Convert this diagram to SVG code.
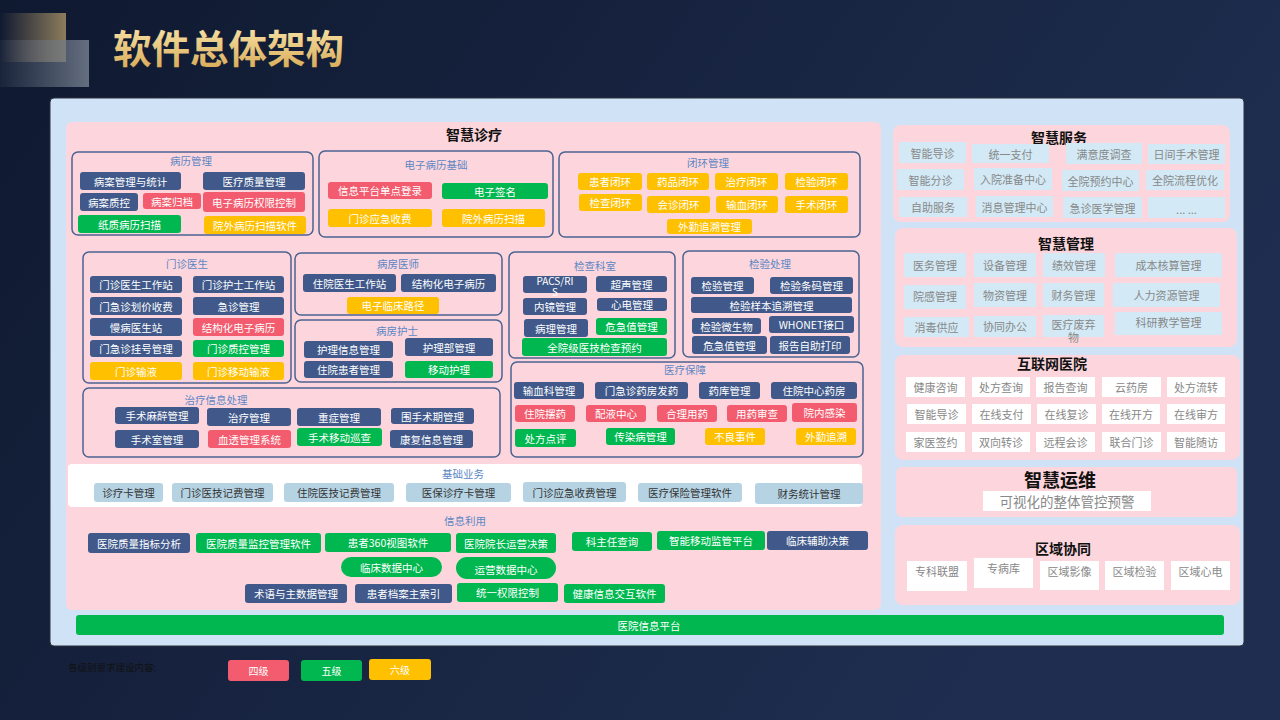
<svg xmlns="http://www.w3.org/2000/svg" width="1280" height="720" viewBox="0 0 1280 720">
<defs>
<linearGradient id="bg" x1="0" y1="0" x2="1" y2="0.4"><stop offset="0" stop-color="#0f1930"/><stop offset="1" stop-color="#1f2e50"/></linearGradient>
<linearGradient id="gold" x1="0" y1="0" x2="0" y2="1"><stop offset="0" stop-color="#fcecb4"/><stop offset="1" stop-color="#d6a650"/></linearGradient>
<linearGradient id="sq1" x1="0" y1="0" x2="1" y2="0"><stop offset="0" stop-color="#8d7c5c" stop-opacity="0"/><stop offset="1" stop-color="#8d7c5c"/></linearGradient>
<linearGradient id="sq2" x1="0" y1="0" x2="1" y2="0"><stop offset="0" stop-color="#6e7888" stop-opacity="0.1"/><stop offset="1" stop-color="#6e7888" stop-opacity="0.9"/></linearGradient>
</defs>
<style>
text{font-family:"Noto Sans CJK SC","Noto Sans",sans-serif}
.it text{font-size:10.5px;fill:#fff;text-anchor:middle;dominant-baseline:central}
.d{fill:#41598a}.r{fill:#f25c6e}.g{fill:#00b84f}.y{fill:#ffc000}
.b{fill:#b6d3e4}.bt text{fill:#333}
.s{fill:#d3eaf6}.w{fill:#fff}.gt .it text{fill:#888;font-size:11px}
.sub{fill:none;stroke:#4b6391;stroke-width:1.5}
.st{font-size:10.5px;fill:#5b86c5;text-anchor:middle;dominant-baseline:central}
.pk{fill:#fcd6dc}
text.h{font-size:14px;font-weight:bold;fill:#111;text-anchor:middle;dominant-baseline:central}
</style>
<rect width="1280" height="720" fill="url(#bg)"/>
<rect x="0" y="13" width="66" height="49" fill="url(#sq1)"/>
<rect x="0" y="40" width="89" height="47" fill="url(#sq2)"/>
<text x="113" y="63" font-size="38.5" font-weight="bold" fill="url(#gold)">软件总体架构</text>

<rect x="50" y="98" width="1194" height="548" rx="4" fill="#d0e2f6" stroke="#2a2f3a" stroke-width="1"/>

<g id="zhihui-zhenliao">
<rect class="pk" x="66" y="122" width="815" height="488" rx="6"/>
<text class="h" x="474" y="134">智慧诊疗</text>
</g>

<g id="binglibguanli">
<rect class="sub" x="72" y="152" width="241" height="83" rx="6"/>
<text class="st" x="191" y="160">病历管理</text>
<g class="it">
<g id="n1"><rect class="d" x="80" y="172" width="101" height="18" rx="3"/><text x="130.5" y="181">病案管理与统计</text></g>
<g id="n2"><rect class="d" x="203" y="172" width="102" height="18" rx="3"/><text x="254" y="181">医疗质量管理</text></g>
<g id="n3"><rect class="d" x="80" y="193" width="58" height="18" rx="3"/><text x="109" y="202">病案质控</text></g>
<g id="n4"><rect class="r" x="143" y="193" width="58" height="16" rx="3"/><text x="172" y="201">病案归档</text></g>
<g id="n5"><rect class="r" x="203" y="192" width="102" height="20" rx="3"/><text x="254" y="202">电子病历权限控制</text></g>
<g id="n6"><rect class="g" x="78" y="215" width="103" height="18" rx="3"/><text x="129.5" y="224">纸质病历扫描</text></g>
<g id="n7"><rect class="y" x="204" y="216" width="102" height="18" rx="3"/><text x="255" y="225">院外病历扫描软件</text></g>
</g>
</g>

<g id="dianzibingli">
<rect class="sub" x="319" y="151" width="234" height="86" rx="6"/>
<text class="st" x="436" y="164">电子病历基础</text>
<g class="it">
<g id="n8"><rect class="r" x="328" y="182" width="104" height="17" rx="3"/><text x="380" y="190.5">信息平台单点登录</text></g>
<g id="n9"><rect class="g" x="442" y="183" width="106" height="16" rx="3"/><text x="495" y="191">电子签名</text></g>
<g id="n10"><rect class="y" x="328" y="209" width="104" height="18" rx="3"/><text x="380" y="218">门诊应急收费</text></g>
<g id="n11"><rect class="y" x="442" y="209" width="103" height="18" rx="3"/><text x="493.5" y="218">院外病历扫描</text></g>
</g>
</g>

<g id="bihuan">
<rect class="sub" x="559" y="152" width="301" height="85" rx="6"/>
<text class="st" x="708" y="162">闭环管理</text>
<g class="it">
<g id="n12"><rect class="y" x="578" y="173" width="64" height="17" rx="3"/><text x="610" y="181.5">患者闭环</text></g>
<g id="n13"><rect class="y" x="647" y="173" width="62" height="17" rx="3"/><text x="678" y="181.5">药品闭环</text></g>
<g id="n14"><rect class="y" x="715" y="173" width="63" height="17" rx="3"/><text x="746.5" y="181.5">治疗闭环</text></g>
<g id="n15"><rect class="y" x="785" y="173" width="63" height="17" rx="3"/><text x="816.5" y="181.5">检验闭环</text></g>
<g id="n16"><rect class="y" x="579" y="194" width="63" height="17" rx="3"/><text x="610.5" y="202">检查闭环</text></g>
<g id="n17"><rect class="y" x="647" y="196" width="63" height="17" rx="3"/><text x="678.5" y="204.5">会诊闭环</text></g>
<g id="n18"><rect class="y" x="716" y="196" width="62" height="17" rx="3"/><text x="747" y="204.5">输血闭环</text></g>
<g id="n19"><rect class="y" x="785" y="196" width="63" height="17" rx="3"/><text x="816.5" y="204.5">手术闭环</text></g>
<g id="n20"><rect class="y" x="667" y="219" width="85" height="15" rx="3"/><text x="709.5" y="226.5">外勤追溯管理</text></g>
</g>
</g>

<g id="menzhenyisheng">
<rect class="sub" x="83" y="252" width="208" height="131" rx="6"/>
<text class="st" x="187" y="263">门诊医生</text>
<g class="it">
<g id="n21"><rect class="d" x="90" y="276" width="92" height="17" rx="3"/><text x="136" y="284.5">门诊医生工作站</text></g>
<g id="n22"><rect class="d" x="193" y="276" width="91" height="17" rx="3"/><text x="238.5" y="284.5">门诊护士工作站</text></g>
<g id="n23"><rect class="d" x="90" y="297" width="92" height="18" rx="3"/><text x="136" y="306">门急诊划价收费</text></g>
<g id="n24"><rect class="d" x="193" y="297" width="91" height="18" rx="3"/><text x="238.5" y="306">急诊管理</text></g>
<g id="n25"><rect class="d" x="90" y="318" width="92" height="18" rx="3"/><text x="136" y="327">慢病医生站</text></g>
<g id="n26"><rect class="r" x="193" y="318" width="91" height="18" rx="3"/><text x="238.5" y="327">结构化电子病历</text></g>
<g id="n27"><rect class="d" x="90" y="340" width="92" height="17" rx="3"/><text x="136" y="348.5">门急诊挂号管理</text></g>
<g id="n28"><rect class="g" x="193" y="340" width="91" height="17" rx="3"/><text x="238.5" y="348.5">门诊质控管理</text></g>
<g id="n29"><rect class="y" x="90" y="362" width="92" height="18" rx="3"/><text x="136" y="371">门诊输液</text></g>
<g id="n30"><rect class="y" x="193" y="362" width="91" height="18" rx="3"/><text x="238.5" y="371">门诊移动输液</text></g>
</g>
</g>

<g id="bingfangyishi">
<rect class="sub" x="295" y="253" width="207" height="62" rx="6"/>
<text class="st" x="398" y="263">病房医师</text>
<g class="it">
<g id="n31"><rect class="d" x="303" y="274" width="93" height="18" rx="3"/><text x="349.5" y="283">住院医生工作站</text></g>
<g id="n32"><rect class="d" x="401" y="274" width="95" height="18" rx="3"/><text x="448.5" y="283">结构化电子病历</text></g>
<g id="n33"><rect class="y" x="347" y="297" width="92" height="17" rx="3"/><text x="393" y="305.5">电子临床路径</text></g>
</g>
</g>

<g id="bingfanghushi">
<rect class="sub" x="295" y="320" width="207" height="62" rx="6"/>
<text class="st" x="397" y="330">病房护士</text>
<g class="it">
<g id="n34"><rect class="d" x="304" y="341" width="89" height="17" rx="3"/><text x="348.5" y="349.5">护理信息管理</text></g>
<g id="n35"><rect class="d" x="405" y="338" width="88" height="18" rx="3"/><text x="449" y="347">护理部管理</text></g>
<g id="n36"><rect class="d" x="304" y="361" width="89" height="17" rx="3"/><text x="348.5" y="369.5">住院患者管理</text></g>
<g id="n37"><rect class="g" x="405" y="361" width="88" height="17" rx="3"/><text x="449" y="369.5">移动护理</text></g>
</g>
</g>

<g id="jianchakeshi">
<rect class="sub" x="509" y="252" width="166" height="106" rx="6"/>
<text class="st" x="595" y="265">检查科室</text>
<g class="it">
<g id="n38"><rect class="d" x="523" y="276" width="64" height="17" rx="3"/><text x="555" y="280" style="font-size:10px">PACS/RI<tspan x="555" dy="11">S</tspan></text></g>
<g id="n39"><rect class="d" x="596" y="276" width="71" height="16" rx="3"/><text x="631.5" y="284">超声管理</text></g>
<g id="n40"><rect class="d" x="523" y="298" width="64" height="17" rx="3"/><text x="555" y="306.5">内镜管理</text></g>
<g id="n41"><rect class="d" x="597" y="298" width="70" height="13" rx="3"/><text x="632" y="304.5">心电管理</text></g>
<g id="n42"><rect class="d" x="524" y="319" width="64" height="18" rx="3"/><text x="556" y="328">病理管理</text></g>
<g id="n43"><rect class="g" x="596" y="318" width="71" height="17" rx="3"/><text x="631.5" y="326.5">危急值管理</text></g>
<g id="n44"><rect class="g" x="522" y="338" width="145" height="18" rx="3"/><text x="594.5" y="347">全院级医技检查预约</text></g>
</g>
</g>

<g id="jianyanchuli">
<rect class="sub" x="683" y="251" width="176" height="106" rx="6"/>
<text class="st" x="770" y="263">检验处理</text>
<g class="it">
<g id="n45"><rect class="d" x="691" y="277" width="63" height="17" rx="3"/><text x="722.5" y="285.5">检验管理</text></g>
<g id="n46"><rect class="d" x="770" y="277" width="83" height="17" rx="3"/><text x="811.5" y="285.5">检验条码管理</text></g>
<g id="n47"><rect class="d" x="691" y="297" width="161" height="16" rx="3"/><text x="771.5" y="305">检验样本追溯管理</text></g>
<g id="n48"><rect class="d" x="692" y="318" width="69" height="16" rx="3"/><text x="726.5" y="326">检验微生物</text></g>
<g id="n49"><rect class="d" x="769" y="316" width="85" height="17" rx="3"/><text x="811.5" y="324.5">WHONET接口</text></g>
<g id="n50"><rect class="d" x="692" y="336" width="75" height="18" rx="3"/><text x="729.5" y="345">危急值管理</text></g>
<g id="n51"><rect class="d" x="770" y="336" width="80" height="18" rx="3"/><text x="810" y="345">报告自助打印</text></g>
</g>
</g>

<g id="zhiliao">
<rect class="sub" x="83" y="388" width="417" height="69" rx="6"/>
<text class="st" x="216" y="399">治疗信息处理</text>
<g class="it">
<g id="n52"><rect class="d" x="115" y="407" width="84" height="17" rx="3"/><text x="157" y="415.5">手术麻醉管理</text></g>
<g id="n53"><rect class="d" x="207" y="408" width="84" height="18" rx="3"/><text x="249" y="417">治疗管理</text></g>
<g id="n54"><rect class="d" x="297" y="408" width="84" height="18" rx="3"/><text x="339" y="417">重症管理</text></g>
<g id="n55"><rect class="d" x="391" y="408" width="83" height="16" rx="3"/><text x="432.5" y="416">围手术期管理</text></g>
<g id="n56"><rect class="d" x="115" y="430" width="84" height="18" rx="3"/><text x="157" y="439">手术室管理</text></g>
<g id="n57"><rect class="r" x="208" y="430" width="83" height="18" rx="3"/><text x="249.5" y="439">血透管理系统</text></g>
<g id="n58"><rect class="g" x="297" y="428" width="85" height="18" rx="3"/><text x="339.5" y="437">手术移动巡查</text></g>
<g id="n59"><rect class="d" x="390" y="430" width="83" height="18" rx="3"/><text x="431.5" y="439">康复信息管理</text></g>
</g>
</g>

<g id="yiliaobaozhang">
<rect class="sub" x="511" y="362" width="352" height="95" rx="6"/>
<text class="st" x="685" y="369">医疗保障</text>
<g class="it">
<g id="n60"><rect class="d" x="514" y="382" width="70" height="17" rx="3"/><text x="549" y="390.5">输血科管理</text></g>
<g id="n61"><rect class="d" x="595" y="382" width="93" height="17" rx="3"/><text x="641.5" y="390.5">门急诊药房发药</text></g>
<g id="n62"><rect class="d" x="699" y="382" width="61" height="17" rx="3"/><text x="729.5" y="390.5">药库管理</text></g>
<g id="n63"><rect class="d" x="771" y="382" width="86" height="17" rx="3"/><text x="814" y="390.5">住院中心药房</text></g>
<g id="n64"><rect class="r" x="515" y="405" width="60" height="17" rx="3"/><text x="545" y="413.5">住院摆药</text></g>
<g id="n65"><rect class="r" x="586" y="405" width="60" height="17" rx="3"/><text x="616" y="413.5">配液中心</text></g>
<g id="n66"><rect class="r" x="657" y="405" width="60" height="17" rx="3"/><text x="687" y="413.5">合理用药</text></g>
<g id="n67"><rect class="r" x="727" y="405" width="60" height="17" rx="3"/><text x="757" y="413.5">用药审查</text></g>
<g id="n68"><rect class="r" x="792" y="403" width="65" height="19" rx="3"/><text x="824.5" y="412.5">院内感染</text></g>
<g id="n69"><rect class="g" x="515" y="429" width="61" height="18" rx="3"/><text x="545.5" y="438">处方点评</text></g>
<g id="n70"><rect class="g" x="606" y="428" width="69" height="17" rx="3"/><text x="640.5" y="436.5">传染病管理</text></g>
<g id="n71"><rect class="y" x="705" y="428" width="60" height="17" rx="3"/><text x="735" y="436.5">不良事件</text></g>
<g id="n72"><rect class="y" x="796" y="428" width="60" height="17" rx="3"/><text x="826" y="436.5">外勤追溯</text></g>
</g>
</g>

<g id="jichuyewu">
<rect x="68" y="464" width="794" height="43" rx="4" fill="#fff"/>
<text class="st" x="463" y="473">基础业务</text>
<g class="it bt">
<g id="n73"><rect class="b" x="94" y="483" width="69" height="19" rx="3"/><text x="128.5" y="492.5">诊疗卡管理</text></g>
<g id="n74"><rect class="b" x="172" y="483" width="101" height="19" rx="3"/><text x="222.5" y="492.5">门诊医技记费管理</text></g>
<g id="n75"><rect class="b" x="284" y="483" width="110" height="19" rx="3"/><text x="339" y="492.5">住院医技记费管理</text></g>
<g id="n76"><rect class="b" x="406" y="483" width="105" height="19" rx="3"/><text x="458.5" y="492.5">医保诊疗卡管理</text></g>
<g id="n77"><rect class="b" x="523" y="482" width="103" height="20" rx="3"/><text x="574.5" y="492">门诊应急收费管理</text></g>
<g id="n78"><rect class="b" x="638" y="483" width="104" height="19" rx="3"/><text x="690" y="492.5">医疗保险管理软件</text></g>
<g id="n79"><rect class="b" x="755" y="483" width="108" height="21" rx="3"/><text x="809" y="493.5">财务统计管理</text></g>
</g>
</g>

<g id="xinxiliyong">
<text class="st" x="465" y="520">信息利用</text>
<g class="it">
<g id="n80"><rect class="d" x="88" y="533" width="102" height="20" rx="3"/><text x="139" y="543">医院质量指标分析</text></g>
<g id="n81"><rect class="g" x="196" y="533" width="125" height="20" rx="3"/><text x="258.5" y="543">医院质量监控管理软件</text></g>
<g id="n82"><rect class="g" x="325" y="533" width="126" height="19" rx="3"/><text x="388" y="542.5">患者360视图软件</text></g>
<g id="n83"><rect class="g" x="456" y="533" width="100" height="20" rx="3"/><text x="506" y="543">医院院长运营决策</text></g>
<g id="n84"><rect class="g" x="572" y="532" width="80" height="19" rx="3"/><text x="612" y="541.5">科主任查询</text></g>
<g id="n85"><rect class="g" x="657" y="531" width="108" height="19" rx="3"/><text x="711" y="540.5">智能移动监管平台</text></g>
<g id="n86"><rect class="d" x="767" y="531" width="101" height="19" rx="3"/><text x="817.5" y="540.5">临床辅助决策</text></g>
<g id="n87"><rect class="g" x="341" y="557" width="101" height="20" rx="10"/><text x="391.5" y="567">临床数据中心</text></g>
<g id="n88"><rect class="g" x="456" y="557" width="100" height="22" rx="11"/><text x="506" y="569">运营数据中心</text></g>
<g id="n89"><rect class="d" x="245" y="584" width="102" height="19" rx="3"/><text x="296" y="593.5">术语与主数据管理</text></g>
<g id="n90"><rect class="d" x="355" y="584" width="97" height="19" rx="3"/><text x="403.5" y="593.5">患者档案主索引</text></g>
<g id="n91"><rect class="g" x="457" y="583" width="101" height="19" rx="3"/><text x="507.5" y="592.5">统一权限控制</text></g>
<g id="n92"><rect class="g" x="564" y="584" width="101" height="19" rx="3"/><text x="614.5" y="593.5">健康信息交互软件</text></g>
</g>
</g>

<g id="pingtai" class="it">
<rect class="g" x="76" y="615" width="1148" height="20" rx="3"/><text x="649" y="625">医院信息平台</text>
</g>

<g id="zhihui-fuwu" class="gt">
<rect class="pk" x="893" y="125" width="337" height="97" rx="8"/>
<text class="h" x="1059" y="137">智慧服务</text>
<g class="it">
<g id="s1"><rect class="s" x="899" y="142" width="67" height="21"/><text x="932.5" y="152.5">智能导诊</text></g>
<g id="s2"><rect class="s" x="972" y="144" width="77" height="19"/><text x="1010.5" y="153.5">统一支付</text></g>
<g id="s3"><rect class="s" x="1066" y="143" width="76" height="21"/><text x="1104" y="153.5">满意度调查</text></g>
<g id="s4"><rect class="s" x="1148" y="144" width="77" height="20"/><text x="1186.5" y="154">日间手术管理</text></g>
<g id="s5"><rect class="s" x="897" y="169" width="67" height="21"/><text x="930.5" y="179.5">智能分诊</text></g>
<g id="s6"><rect class="s" x="974" y="168" width="78" height="22"/><text x="1013" y="179">入院准备中心</text></g>
<g id="s7"><rect class="s" x="1062" y="170" width="77" height="21"/><text x="1100.5" y="180.5">全院预约中心</text></g>
<g id="s8"><rect class="s" x="1146" y="170" width="78" height="20"/><text x="1185" y="180">全院流程优化</text></g>
<g id="s9"><rect class="s" x="899" y="197" width="68" height="20"/><text x="933" y="207">自助服务</text></g>
<g id="s10"><rect class="s" x="976" y="196" width="77" height="21"/><text x="1014.5" y="206.5">消息管理中心</text></g>
<g id="s11"><rect class="s" x="1063" y="197" width="79" height="21"/><text x="1102.5" y="207.5">急诊医学管理</text></g>
<g id="s12"><rect class="s" x="1148" y="197" width="77" height="21"/><text x="1186.5" y="209">... ...</text></g>
</g>
</g>

<g id="zhihui-guanli" class="gt">
<rect class="pk" x="895" y="228" width="342" height="119" rx="8"/>
<text class="h" x="1066" y="243">智慧管理</text>
<g class="it">
<g id="m1"><rect class="s" x="904" y="253" width="62" height="24"/><text x="935" y="265">医务管理</text></g>
<g id="m2"><rect class="s" x="974" y="253" width="62" height="24"/><text x="1005" y="265">设备管理</text></g>
<g id="m3"><rect class="s" x="1043" y="253" width="62" height="24"/><text x="1074" y="265">绩效管理</text></g>
<g id="m4"><rect class="s" x="1115" y="253" width="107" height="24"/><text x="1168.5" y="265">成本核算管理</text></g>
<g id="m5"><rect class="s" x="904" y="285" width="62" height="24"/><text x="935" y="296">院感管理</text></g>
<g id="m6"><rect class="s" x="974" y="283" width="62" height="24"/><text x="1005" y="294.5">物资管理</text></g>
<g id="m7"><rect class="s" x="1043" y="283" width="61" height="24"/><text x="1073.5" y="294.5">财务管理</text></g>
<g id="m8"><rect class="s" x="1113" y="283" width="107" height="24"/><text x="1166.5" y="294.5">人力资源管理</text></g>
<g id="m9"><rect class="s" x="904" y="317" width="65" height="20"/><text x="936.5" y="327">消毒供应</text></g>
<g id="m10"><rect class="s" x="974" y="316" width="62" height="21"/><text x="1005" y="326">协同办公</text></g>
<g id="m11"><rect class="s" x="1043" y="315" width="61" height="22"/><text x="1073.5" y="323.5">医疗废弃<tspan x="1073.5" dy="13.5">物</tspan></text></g>
<g id="m12"><rect class="s" x="1115" y="312" width="107" height="23"/><text x="1168.5" y="321.5">科研教学管理</text></g>
</g>
</g>

<g id="hulianwang" class="gt">
<rect class="pk" x="895" y="355" width="345" height="105" rx="8"/>
<text class="h" x="1052" y="363">互联网医院</text>
<g class="it">
<g id="h1"><rect class="w" x="906" y="377" width="59" height="20"/><text x="935.5" y="387">健康咨询</text></g>
<g id="h2"><rect class="w" x="972" y="377" width="58" height="20"/><text x="1001" y="387">处方查询</text></g>
<g id="h3"><rect class="w" x="1036" y="377" width="59" height="20"/><text x="1065.5" y="387">报告查询</text></g>
<g id="h4"><rect class="w" x="1102" y="377" width="59" height="20"/><text x="1131.5" y="387">云药房</text></g>
<g id="h5"><rect class="w" x="1167" y="377" width="58" height="20"/><text x="1196" y="387">处方流转</text></g>
<g id="h6"><rect class="w" x="907" y="404" width="59" height="20"/><text x="936.5" y="414">智能导诊</text></g>
<g id="h7"><rect class="w" x="972" y="404" width="59" height="20"/><text x="1001.5" y="414">在线支付</text></g>
<g id="h8"><rect class="w" x="1037" y="404" width="59" height="20"/><text x="1066.5" y="414">在线复诊</text></g>
<g id="h9"><rect class="w" x="1102" y="404" width="58" height="20"/><text x="1131" y="414">在线开方</text></g>
<g id="h10"><rect class="w" x="1167" y="404" width="58" height="20"/><text x="1196" y="414">在线审方</text></g>
<g id="h11"><rect class="w" x="906" y="432" width="59" height="20"/><text x="935.5" y="442">家医签约</text></g>
<g id="h12"><rect class="w" x="972" y="432" width="58" height="20"/><text x="1001" y="442">双向转诊</text></g>
<g id="h13"><rect class="w" x="1036" y="432" width="59" height="20"/><text x="1065.5" y="442">远程会诊</text></g>
<g id="h14"><rect class="w" x="1102" y="432" width="59" height="20"/><text x="1131.5" y="442">联合门诊</text></g>
<g id="h15"><rect class="w" x="1167" y="432" width="58" height="20"/><text x="1196" y="442">智能随访</text></g>
</g>
</g>

<g id="zhihui-yunwei">
<rect class="pk" x="896" y="467" width="341" height="50" rx="6"/>
<text class="h" x="1060" y="479" style="font-size:18px">智慧运维</text>
<rect x="983" y="491" width="168" height="20" fill="#fff"/>
<text x="1067" y="501" font-size="13.5" fill="#888" text-anchor="middle" dominant-baseline="central">可视化的整体管控预警</text>
</g>

<g id="quyu" class="gt">
<rect class="pk" x="895" y="525" width="345" height="80" rx="8"/>
<text class="h" x="1063" y="548">区域协同</text>
<g class="it">
<g id="q1"><rect class="w" x="907" y="561" width="60" height="30"/><text x="937" y="571">专科联盟</text></g>
<g id="q2"><rect class="w" x="974" y="558" width="59" height="30"/><text x="1003.5" y="568">专病库</text></g>
<g id="q3"><rect class="w" x="1040" y="561" width="59" height="29"/><text x="1069.5" y="571">区域影像</text></g>
<g id="q4"><rect class="w" x="1105" y="561" width="59" height="29"/><text x="1134.5" y="571">区域检验</text></g>
<g id="q5"><rect class="w" x="1171" y="561" width="59" height="29"/><text x="1200.5" y="571">区域心电</text></g>
</g>
</g>

<g id="legend">
<text x="68" y="667" font-size="9.5" fill="#111" dominant-baseline="central">各级别要求建设内容:</text>
<g class="it">
<g id="l4"><rect class="r" x="228" y="660" width="61" height="21" rx="3"/><text x="258.5" y="670.5" style="font-size:10px">四级</text></g>
<g id="l5"><rect class="g" x="301" y="660" width="61" height="21" rx="3"/><text x="331.5" y="670.5" style="font-size:10px">五级</text></g>
<g id="l6"><rect class="y" x="369" y="659" width="62" height="21" rx="3"/><text x="400" y="669.5" style="font-size:10px">六级</text></g>
</g>
</g>

<g id="connectors"/>
</svg>
